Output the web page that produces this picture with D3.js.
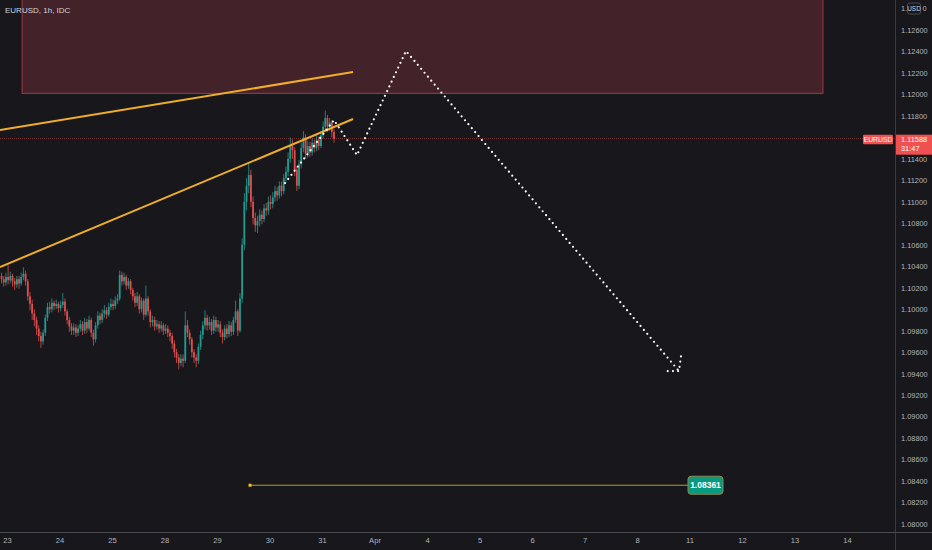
<!DOCTYPE html>
<html>
<head>
<meta charset="utf-8">
<script src="https://cdn.jsdelivr.net/npm/d3@7"></script>
<style>
  html, body { margin: 0; padding: 0; background: #17171c; }
  svg { display: block; }
</style>
</head>
<body>
<div id="chart"></div>
<script>
// trading days shown on the time axis (each one 24 hourly bars)
const dayLabels = ["23", "24", "25", "28", "29", "30", "31", "Apr", "4", "5", "6", "7", "8", "11", "12", "13", "14"];
const priceTicks = [1.080, 1.082, 1.084, 1.086, 1.088, 1.090, 1.092, 1.094, 1.096, 1.098, 1.100, 1.102,
    1.104, 1.106, 1.108, 1.110, 1.112, 1.114, 1.118, 1.120, 1.122, 1.124, 1.126];
// top tick is partly hidden by the currency badge: "1." [USD] "0"
const topTick = ["1.", "USD", "0"];

// hourly candles, first bar is 3 hours before the "23" day line
const firstHour = -3;
const firstOpen = 1.1031;
const closes = [1.1028, 1.1025, 1.1030,
    1.1027, 1.1031, 1.1026, 1.1023, 1.1028, 1.1024, 1.1030, 1.1033, 1.1026, 1.1012,
    1.1005, 1.0996, 1.0990, 1.0982, 1.0975, 1.0970, 1.0978, 1.0992, 1.1002, 1.1000,
    1.1006, 1.1003, 1.1005, 1.1001, 1.1004, 1.1007, 1.0998, 1.0990, 1.0984, 1.0980,
    1.0983, 1.0978, 1.0982, 1.0986, 1.0980, 1.0988, 1.0982, 1.0990, 1.0978, 1.0972,
    1.0985, 1.0994, 1.0990, 1.0996, 1.0999, 1.0995, 1.1002, 1.1005, 1.1003, 1.1008,
    1.1010, 1.1032, 1.1026, 1.1030, 1.1022, 1.1026, 1.1018, 1.1012, 1.1006, 1.1012,
    1.1000, 1.1008, 1.0995, 1.1010, 1.0998, 1.0988, 1.0990, 1.0984, 1.0986, 1.0982,
    1.0985, 1.0980, 1.0982, 1.0978, 1.0975, 1.0968, 1.0960, 1.0955, 1.0950, 1.0954,
    1.0952, 1.0985, 1.0978, 1.0972, 1.0960, 1.0955, 1.0952, 1.0965, 1.0976, 1.0985,
    1.0992, 1.0985, 1.0988, 1.0980, 1.0990, 1.0983, 1.0986, 1.0978, 1.0974, 1.0982,
    1.0977, 1.0985, 1.0979, 1.0990, 1.0998, 1.0980, 1.1010, 1.1060, 1.1100, 1.1115,
    1.1125, 1.1100, 1.1085, 1.1078, 1.1082, 1.1088, 1.1084, 1.1094, 1.1092, 1.1100,
    1.1098, 1.1104, 1.1110, 1.1106, 1.1115, 1.1110, 1.1122, 1.1128, 1.1140, 1.1152,
    1.1148, 1.1130, 1.1115, 1.1135, 1.1150, 1.1160, 1.1145, 1.1152, 1.1146, 1.1155,
    1.1150, 1.1158, 1.1152, 1.1162, 1.1170, 1.1178, 1.1170, 1.1174, 1.1165, 1.11588];
const highs = [1.1034, 1.1031, 1.1034,
    1.1041, 1.1035, 1.1033, 1.1029, 1.1031, 1.1031, 1.1034, 1.1039, 1.1036, 1.1028,
    1.1016, 1.1009, 1.1000, 1.0993, 1.0985, 1.0979, 1.0981, 1.0995, 1.1006, 1.1007,
    1.1010, 1.1008, 1.1009, 1.1007, 1.1008, 1.1015, 1.1010, 1.1000, 1.0993, 1.0987,
    1.0987, 1.0986, 1.0985, 1.0990, 1.0989, 1.0992, 1.0991, 1.0994, 1.0992, 1.0981,
    1.0988, 1.0998, 1.0997, 1.1000, 1.1004, 1.1002, 1.1006, 1.1010, 1.1009, 1.1012,
    1.1014, 1.1036, 1.1035, 1.1034, 1.1032, 1.1029, 1.1028, 1.1020, 1.1015, 1.1016,
    1.1014, 1.1011, 1.1010, 1.1022, 1.1012, 1.1000, 1.0994, 1.0993, 1.0990, 1.0989,
    1.0989, 1.0987, 1.0986, 1.0985, 1.0981, 1.0978, 1.0971, 1.0963, 1.0958, 1.0958,
    1.0958, 1.0998, 1.0990, 1.0981, 1.0974, 1.0963, 1.0958, 1.0968, 1.0980, 1.0989,
    1.0999, 1.0995, 1.0993, 1.0991, 1.0994, 1.0993, 1.0990, 1.0989, 1.0981, 1.0985,
    1.0986, 1.0989, 1.0988, 1.0993, 1.1008, 1.1000, 1.1015, 1.1066, 1.1108, 1.1122,
    1.1137, 1.1130, 1.1105, 1.1090, 1.1087, 1.1093, 1.1092, 1.1098, 1.1099, 1.1105,
    1.1106, 1.1109, 1.1115, 1.1114, 1.1119, 1.1119, 1.1126, 1.1133, 1.1146, 1.1160,
    1.1158, 1.1151, 1.1133, 1.1139, 1.1155, 1.1166, 1.1163, 1.1157, 1.1156, 1.1159,
    1.1158, 1.1162, 1.1161, 1.1166, 1.1175, 1.1185, 1.1181, 1.1178, 1.1176, 1.1168];
const lows = [1.1024, 1.1021, 1.1022,
    1.1023, 1.1024, 1.1021, 1.1018, 1.1020, 1.1019, 1.1022, 1.1027, 1.1022, 1.1008,
    1.0999, 1.0990, 1.0984, 1.0976, 1.0970, 1.0964, 1.0967, 1.0975, 1.0989, 1.0996,
    1.0997, 1.0999, 1.1000, 1.0997, 1.0998, 1.1001, 1.0994, 1.0986, 1.0979, 1.0976,
    1.0976, 1.0974, 1.0975, 1.0979, 1.0976, 1.0977, 1.0978, 1.0980, 1.0974, 1.0966,
    1.0969, 1.0982, 1.0986, 1.0987, 1.0992, 1.0991, 1.0993, 1.0999, 1.0999, 1.1000,
    1.1005, 1.1008, 1.1022, 1.1023, 1.1018, 1.1019, 1.1014, 1.1008, 1.1002, 1.1003,
    1.0996, 1.0997, 1.0990, 1.0993, 1.0994, 1.0983, 1.0984, 1.0980, 1.0981, 1.0978,
    1.0979, 1.0976, 1.0977, 1.0974, 1.0970, 1.0963, 1.0955, 1.0950, 1.0944, 1.0947,
    1.0946, 1.0950, 1.0974, 1.0967, 1.0955, 1.0950, 1.0946, 1.0949, 1.0962, 1.0972,
    1.0981, 1.0980, 1.0981, 1.0976, 1.0977, 1.0979, 1.0979, 1.0974, 1.0968, 1.0971,
    1.0973, 1.0974, 1.0975, 1.0976, 1.0987, 1.0975, 1.0978, 1.1006, 1.1055, 1.1092,
    1.1108, 1.1095, 1.1079, 1.1072, 1.1071, 1.1077, 1.1079, 1.1081, 1.1087, 1.1088,
    1.1093, 1.1094, 1.1100, 1.1101, 1.1103, 1.1105, 1.1107, 1.1118, 1.1124, 1.1136,
    1.1140, 1.1124, 1.1110, 1.1112, 1.1131, 1.1146, 1.1140, 1.1141, 1.1142, 1.1143,
    1.1146, 1.1147, 1.1148, 1.1150, 1.1159, 1.1166, 1.1165, 1.1166, 1.1160, 1.1155];

// drawings: [hour, price] points
const upperTrend = [[-3.2, 1.11668], [158.2, 1.12208]];
const lowerTrend = [[-3.2, 1.10393], [158.2, 1.11771]];
const forecastPath = [[127.1, 1.11175], [149.5, 1.11761], [160, 1.11435], [182.4, 1.12404], [307.2, 1.09424]];
const arrowHead = [[308.1, 1.09560], [307.2, 1.09424], [301.5, 1.09424]];
const zone = { from: 6.9, to: 373, low: 1.1201, high: 1.1330 };
const hLine = { from: 111.1, price: 1.08361 };
const lastPrice = 1.11588;
const countdown = "31:47";

const width = 932;
const height = 550;
const plotRight = 895;
const plotBottom = 532;

const x = d3.scaleLinear().domain([0, 24 * 16]).range([7, 847]);
const y = d3.scaleLinear().domain([1.080, 1.126]).range([524, 30]);

const upColor = "#26a69a";
const downColor = "#ef5350";
const font = "'Liberation Sans', Arial, sans-serif";

const svg = d3.select("#chart")
    .append("svg")
    .attr("width", width)
    .attr("height", height)
    .style("font-family", font);

svg.append("rect")
    .attr("width", width)
    .attr("height", height)
    .attr("fill", "#17171c");

svg.append("clipPath")
    .attr("id", "plot-clip")
    .append("rect")
    .attr("width", plotRight)
    .attr("height", plotBottom);

const plot = svg.append("g").attr("clip-path", "url(#plot-clip)");

// resistance zone
plot.append("rect")
    .attr("x", x(zone.from))
    .attr("y", y(zone.high))
    .attr("width", x(zone.to) - x(zone.from))
    .attr("height", y(zone.low) - y(zone.high))
    .attr("fill", "#432329")
    .attr("stroke", "#a8373f")
    .attr("stroke-width", 1);

// last price line
plot.append("line")
    .attr("x1", 0)
    .attr("x2", plotRight)
    .attr("y1", y(lastPrice))
    .attr("y2", y(lastPrice))
    .attr("stroke", "#ef5350")
    .attr("stroke-opacity", 0.5)
    .attr("stroke-dasharray", "1 1");

// candles
const candles = closes.map((c, i) => ({
    hour: firstHour + i,
    open: i === 0 ? firstOpen : closes[i - 1],
    close: c,
    high: highs[i],
    low: lows[i]
}));

const candle = plot.selectAll(".candle")
    .data(candles)
    .enter()
    .append("g")
    .attr("class", "candle")
    .attr("fill", d => d.close >= d.open ? upColor : downColor)
    .attr("stroke", d => d.close >= d.open ? upColor : downColor)
    .attr("opacity", 0.92);

candle.append("line")
    .attr("x1", d => x(d.hour + 0.5))
    .attr("x2", d => x(d.hour + 0.5))
    .attr("y1", d => y(d.high))
    .attr("y2", d => y(d.low))
    .attr("stroke-width", 0.8);

candle.append("rect")
    .attr("x", d => x(d.hour + 0.5) - 0.9)
    .attr("width", 1.8)
    .attr("y", d => y(Math.max(d.open, d.close)))
    .attr("height", d => Math.max(0.8, Math.abs(y(d.open) - y(d.close))))
    .attr("stroke", "none");

// trend lines
const line = d3.line().x(d => x(d[0])).y(d => y(d[1]));

[upperTrend, lowerTrend].forEach(t => {
    plot.append("path")
        .attr("d", line(t))
        .attr("fill", "none")
        .attr("stroke", "#f0ad2a")
        .attr("stroke-width", 2);
});

// forecast path drawn with dots
[forecastPath, arrowHead].forEach(p => {
    plot.append("path")
        .attr("d", line(p))
        .attr("fill", "none")
        .attr("stroke", "#ffffff")
        .attr("stroke-width", 2.2)
        .attr("stroke-linecap", "round")
        .attr("stroke-dasharray", "0 5.2");
});

// horizontal level line
const hy = y(hLine.price);
plot.append("line")
    .attr("x1", x(hLine.from))
    .attr("x2", 700)
    .attr("y1", hy)
    .attr("y2", hy)
    .attr("stroke", "#b79a2e")
    .attr("stroke-width", 1);

plot.append("rect")
    .attr("x", x(hLine.from) - 1.5)
    .attr("y", hy - 1.5)
    .attr("width", 3)
    .attr("height", 3)
    .attr("fill", "#f0c030");

const lbl = svg.append("g").attr("transform", `translate(688,${hy})`);
lbl.append("rect")
    .attr("x", 0)
    .attr("y", -9)
    .attr("width", 35)
    .attr("height", 18)
    .attr("rx", 3)
    .attr("fill", "#089981")
    .attr("stroke", "#8f8a4a")
    .attr("stroke-width", 1);
lbl.append("text")
    .attr("x", 17.5)
    .attr("y", 3)
    .attr("text-anchor", "middle")
    .attr("fill", "#ffffff")
    .style("font-size", "8.5px")
    .style("font-weight", "bold")
    .text(d3.format(".5f")(hLine.price));

// axes frame
svg.append("line")
    .attr("x1", plotRight + 0.5).attr("x2", plotRight + 0.5)
    .attr("y1", 0).attr("y2", height)
    .attr("stroke", "#3a3b42");
svg.append("line")
    .attr("x1", 0).attr("x2", width)
    .attr("y1", plotBottom + 0.5).attr("y2", plotBottom + 0.5)
    .attr("stroke", "#4a4b52");

// price axis
const yAxis = svg.append("g")
    .attr("transform", `translate(${plotRight},0)`)
    .call(d3.axisRight(y).tickValues(priceTicks).tickFormat(d3.format(".5f")).tickSize(0).tickPadding(6));
yAxis.select(".domain").remove();
yAxis.selectAll("text")
    .attr("fill", "#b2b5be")
    .style("font-size", "7.4px")
    .style("font-family", font);

// top tick with the currency badge
const ty = y(1.128);
svg.append("text")
    .attr("x", plotRight + 6).attr("y", ty + 2.6)
    .attr("fill", "#b2b5be")
    .style("font-size", "7.4px")
    .text(topTick[0]);
const badge = svg.append("g").attr("transform", `translate(907.5,${ty})`);
badge.append("rect")
    .attr("x", 0).attr("y", -5.5)
    .attr("width", 13).attr("height", 11)
    .attr("rx", 2)
    .attr("fill", "#17171c")
    .attr("stroke", "#4a4b52");
badge.append("text")
    .attr("x", 6.5).attr("y", 2.5)
    .attr("text-anchor", "middle")
    .attr("fill", "#d1d4dc")
    .style("font-size", "6.4px")
    .text(topTick[1]);
svg.append("text")
    .attr("x", 922.5).attr("y", ty + 2.6)
    .attr("fill", "#b2b5be")
    .style("font-size", "7.4px")
    .text(topTick[2]);

// last price label
const ly = y(lastPrice);
svg.append("rect")
    .attr("x", plotRight + 1).attr("y", ly - 4)
    .attr("width", width - plotRight - 1).attr("height", 20)
    .attr("fill", "#f05150");
svg.append("text")
    .attr("x", plotRight + 6).attr("y", ly + 3)
    .attr("fill", "#ffffff")
    .style("font-size", "7.4px")
    .text(d3.format(".5f")(lastPrice));
svg.append("text")
    .attr("x", plotRight + 6).attr("y", ly + 12.5)
    .attr("fill", "#ffffff")
    .style("font-size", "7.4px")
    .text(countdown);

svg.append("rect")
    .attr("x", 863).attr("y", ly - 4)
    .attr("width", 30).attr("height", 9.5)
    .attr("rx", 1)
    .attr("fill", "#f05150");
svg.append("text")
    .attr("x", 878).attr("y", ly + 3.3)
    .attr("text-anchor", "middle")
    .attr("fill", "#ffffff")
    .style("font-size", "6.8px")
    .text("EURUSD");

// time axis
const xAxis = svg.append("g")
    .attr("transform", `translate(0,${plotBottom})`)
    .call(d3.axisBottom(x)
        .tickValues(dayLabels.map((d, i) => i * 24))
        .tickFormat((d, i) => dayLabels[i])
        .tickSize(0)
        .tickPadding(6));
xAxis.select(".domain").remove();
xAxis.selectAll("text")
    .attr("fill", "#b2b5be")
    .style("font-size", "7.6px")
    .style("font-family", font);

// title
svg.append("text")
    .attr("x", 5)
    .attr("y", 13)
    .attr("fill", "#d1d4dc")
    .style("font-size", "8px")
    .text("EURUSD, 1h, IDC");
</script>
</body>
</html>
